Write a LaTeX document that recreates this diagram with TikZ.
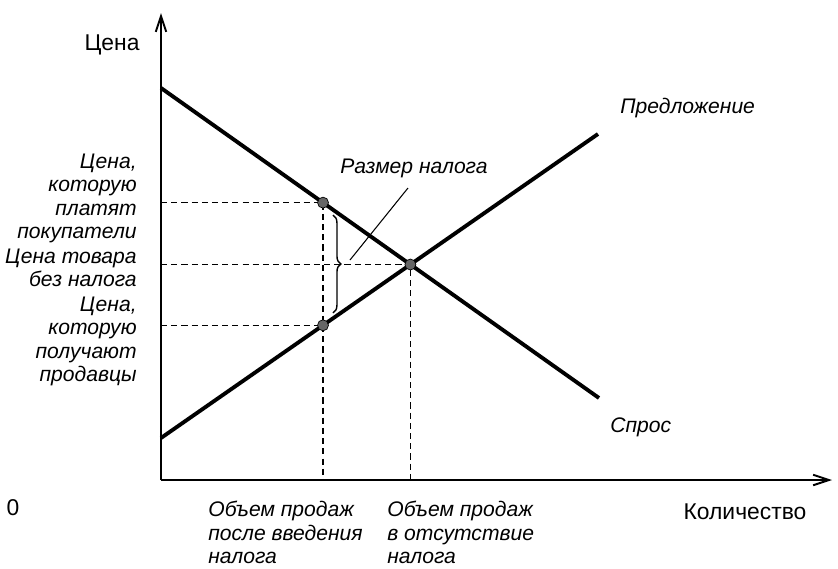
\documentclass[tikz,border=0pt]{standalone}
\usepackage{fontspec}
\setmainfont{Liberation Sans}
\usetikzlibrary{arrows.meta,decorations.pathreplacing}
\colorlet{ptA}{black!60}

\begin{document}
\begin{tikzpicture}[
    axis/.style={line width=1.1pt, -{Straight Barb[length=9pt, width=6pt]}},
    curve/.style={line width=2.2pt},
    guide/.style={line width=0.7pt, dash pattern=on 3.5pt off 2.3pt},
    lbl/.style={font=\fontsize{13}{13.2}\selectfont, inner sep=0pt},
    ilbl/.style={font=\fontsize{12}{13.2}\selectfont\itshape, inner sep=0pt},
    dot/.style={circle, draw=black, fill=ptA, inner sep=0pt, minimum size=0.22cm}]
    \useasboundingbox (-3.22,-1.76) rectangle (13.54,9.6);
    % axes
    \coordinate (O) at (0,0);
    \coordinate (ytip) at (0,9.34);
    \coordinate (xtip) at (13.42,0);
    \draw[axis](O)--(ytip);
    \draw[axis](O)--(xtip);
    % demand and supply
    \coordinate (d1) at (0,7.84);  \coordinate (d2) at (8.76,1.64);
    \coordinate (s1) at (0,0.84);  \coordinate (s2) at (8.74,6.92);
    \coordinate (q1) at (3.24,0);  \coordinate (q1t) at (3.24,1);
    \coordinate (E) at (intersection of d1--d2 and s1--s2);
    \coordinate (B) at (intersection of d1--d2 and q1--q1t);
    \coordinate (S) at (intersection of s1--s2 and q1--q1t);
    \draw[guide](B -| O)--(B)--(B |- O);
    \draw[guide](E -| O)--(E)--(E |- O);
    \draw[guide](S -| O)--(S);
    \draw[curve](d1)--(d2);
    \draw[curve](s1)--(s2);
    \foreach \p in {B,E,S}{%
      \node[dot] (dot\p) at (\p){};}
    % tax brace
    \coordinate (brtop) at (3.44,5.3);
    \coordinate (brbot) at (3.44,3.34);
    \draw[line width=0.8pt, decorate, decoration={brace, amplitude=4.5pt}](brtop)--(brbot);
    \coordinate (lead) at (3.78,4.4);
    \coordinate (leadend) at (4.94,5.84);
    \draw[line width=0.6pt](lead)--(leadend);
    \node[ilbl, anchor=west] (taxlbl) at (3.58,6.24){Размер налога};
    % labels
    \node[lbl] (pricelbl) at (-0.98,8.7){Цена};
    \node[ilbl, anchor=east, align=right] (paylbl) at (-0.48,5.63){Цена,\\которую\\платят\\покупатели};
    \node[ilbl, anchor=east, align=right] (eqlbl) at (-0.48,4.25){Цена товара\\без налога};
    \node[ilbl, anchor=east, align=right] (getlbl) at (-0.48,2.77){Цена,\\которую\\получают\\продавцы};
    \node[lbl] (zero) at (-2.96,-0.56){0};
    \node[lbl] (qlbl) at (11.68,-0.64){Количество};
    \node[ilbl, anchor=west, align=left] (qtax) at (0.94,-1.05){Объем продаж\\после введения\\налога};
    \node[ilbl, anchor=west, align=left] (qfree) at (4.52,-1.05){Объем продаж\\в отсутствие\\налога};
    \node[ilbl, anchor=west] (supplbl) at (9.18,7.44){Предложение};
    \node[ilbl, anchor=west] (demlbl) at (8.98,1.06){Спрос};
  \end{tikzpicture}
\end{document}
